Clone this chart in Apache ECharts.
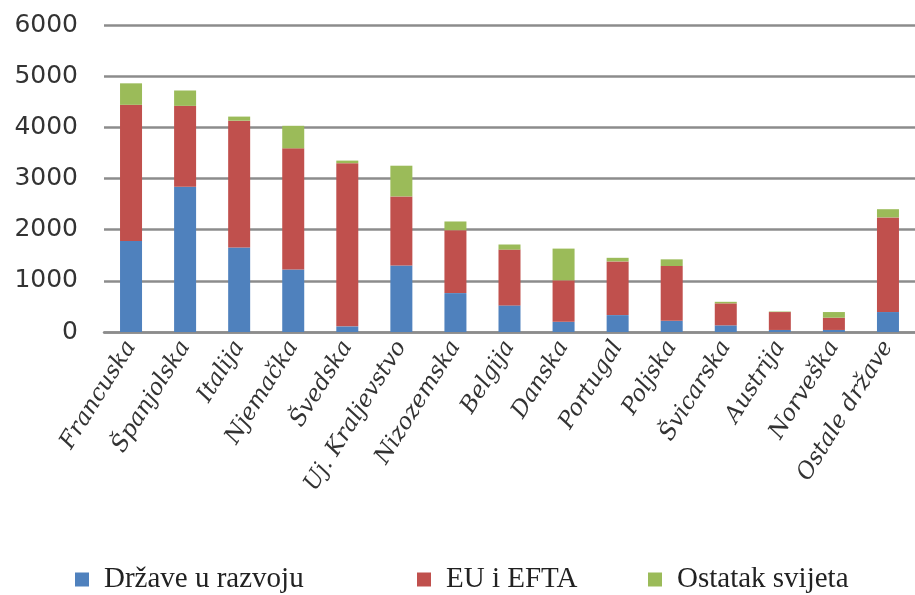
<!DOCTYPE html>
<html>
<head>
<meta charset="utf-8">
<script src="https://cdn.jsdelivr.net/npm/echarts@6/dist/echarts.min.js"></script>
<style>
html,body{margin:0;padding:0;background:#fff;}
#chart{width:915px;height:595px;}
</style>
</head>
<body>
<div id="chart"></div>
<script>
const categories = ["Francuska","Španjolska","Italija","Njemačka","Švedska","Uj. Kraljevstvo","Nizozemska","Belgija","Danska","Portugal","Poljska","Švicarska","Austrija","Norveška","Ostale države"];
const seriesNames = ["Države u razvoju","EU i EFTA","Ostatak svijeta"];
const razvoj = [1780, 2840, 1650, 1220, 110, 1300, 760, 520, 200, 330, 220, 130, 40, 40, 390];
const euEfta = [2660, 1580, 2480, 2370, 3190, 1350, 1230, 1090, 810, 1050, 1070, 430, 350, 240, 1850];
const ostatak = [420, 300, 80, 440, 50, 600, 170, 100, 620, 70, 130, 30, 10, 110, 160];
const yTicks = [0, 1000, 2000, 3000, 4000, 5000, 6000];

const colors = ["#4f81bd", "#c0504d", "#9bbb59"];
const chart = echarts.init(document.getElementById('chart'), null, {renderer: 'canvas'});
const legendBase = {
  orient: 'horizontal', top: 560, itemWidth: 14, itemHeight: 14, icon: 'rect',
  selectedMode: false,
  textStyle: {fontFamily: 'Liberation Serif', fontSize: 29, color: '#222', padding: [0,0,0,10]}
};
const lefts = [70, 412, 643];
chart.setOption({
  animation: false,
  color: colors,
  grid: {left: 104, top: 25, width: 822, bottom: 263, containLabel: false},
  legend: seriesNames.map((n, i) => Object.assign({}, legendBase, {data: [n], left: lefts[i]})),
  xAxis: {
    type: 'category', data: categories,
    axisTick: {show: false},
    axisLine: {show: true, lineStyle: {color: '#8c8c8c', width: 2.5}},
    axisLabel: {
      interval: 0, rotate: 58, margin: 11,
      fontFamily: 'DejaVu Serif', fontStyle: 'italic', fontSize: 23, color: '#333'
    }
  },
  yAxis: {
    type: 'value', min: yTicks[0], max: yTicks[yTicks.length - 1], interval: 1000,
    axisLine: {show: false}, axisTick: {show: false},
    axisLabel: {margin: 26, fontFamily: 'DejaVu Sans', fontSize: 25, color: '#333',
      formatter: v => String(v)},
    splitLine: {lineStyle: {color: '#8c8c8c', width: 2.5}}
  },
  series: [razvoj, euEfta, ostatak].map((d, i) => ({
    name: seriesNames[i], type: 'bar', stack: 'total', barWidth: 22, data: d,
    itemStyle: {color: colors[i]}
  }))
});
</script>
</body>
</html>
